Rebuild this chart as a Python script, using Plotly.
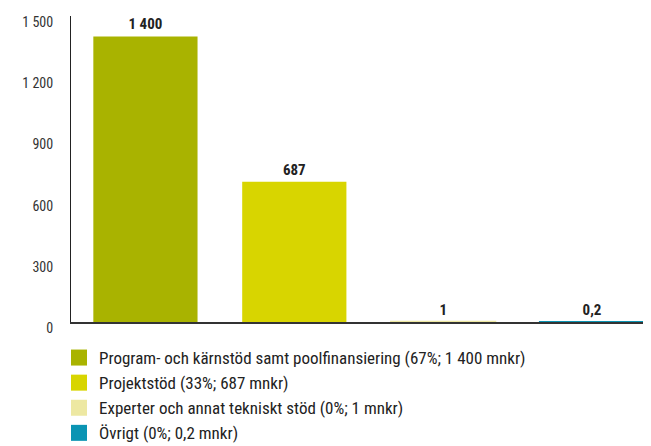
import plotly.graph_objects as go

categories = ["Program- och kärnstöd", "Projektstöd", "Experter", "Övrigt"]
values = [1400, 687, 1, 0.2]
value_labels = ["1 400", "687", "1", "0,2"]
legend_names = [
    "Program- och kärnstöd samt poolfinansiering (67%; 1 400 mnkr)",
    "Projektstöd (33%; 687 mnkr)",
    "Experter och annat tekniskt stöd (0%; 1 mnkr)",
    "Övrigt (0%; 0,2 mnkr)",
]
colors = ["#A9B300", "#D8D500", "#EDE8A2", "#0A94B3"]
y_ticks = [0, 300, 600, 900, 1200, 1500]

FONT = "Liberation Sans Narrow, Roboto Condensed, Roboto, sans-serif"

fig = go.Figure()
fig.add_trace(go.Bar(
    x=categories, y=values, width=0.70,
    marker=dict(color=colors, line=dict(color=colors, width=[0, 0, 2, 2])),
    text=value_labels, textposition="outside", cliponaxis=False,
    textfont=dict(family=FONT, size=15, color="#222222", weight="bold"),
    showlegend=False, hoverinfo="skip",
))
for i, (name, c) in enumerate(zip(legend_names, colors)):
    fig.add_trace(go.Scatter(
        x=[None], y=[None], mode="markers", name=name,
        legendgroup=f"g{i}",
        marker=dict(symbol="square", size=16, color=c),
    ))

fig.update_layout(
    width=643, height=438,
    margin=dict(l=63, r=0, t=8, b=124, autoexpand=False),
    plot_bgcolor="white", paper_bgcolor="white",
    separators=", ",
    font=dict(family=FONT, color="#222222"),
    xaxis=dict(
        range=[-0.5, 3.396], showticklabels=False, ticks="",
        showgrid=False, zeroline=False, layer="below traces",
        showline=True, linecolor="#333333", linewidth=1.5,
    ),
    yaxis=dict(
        range=[0, 1500], tickvals=y_ticks, ticktext=["0", "300", "600", "900", "1 200", "1 500"],
        showgrid=False, zeroline=False, ticks="",
        showline=True, linecolor="#222222", linewidth=1,
        tickfont=dict(family=FONT, size=14, color="#333333"),
        ticklabelshift=6, ticklabelstandoff=14,
    ),
    legend=dict(
        x=-12 / 580, y=-18 / 306, xanchor="left", yanchor="top",
        font=dict(family=FONT, size=17, color="#222222"),
        tracegroupgap=0, itemwidth=30,
        bgcolor="rgba(0,0,0,0)",
    ),
)

fig.write_html("out.html")
